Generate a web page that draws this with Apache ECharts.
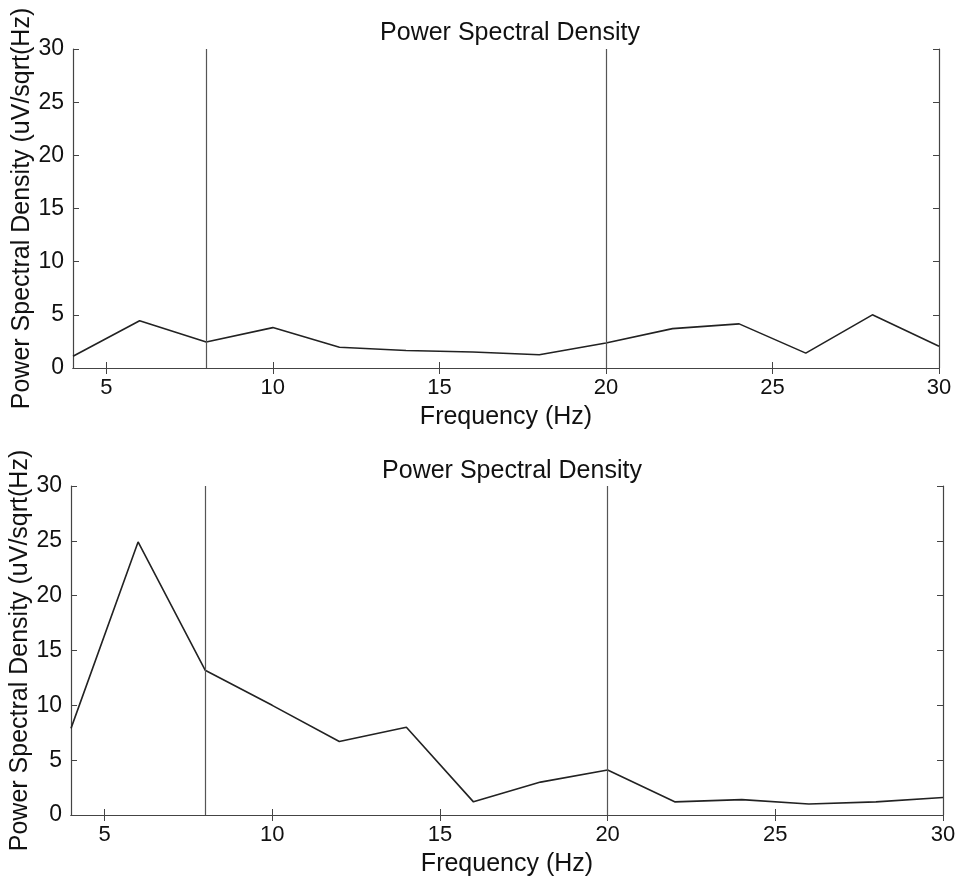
<!doctype html>
<html>
<head>
<meta charset="UTF-8">
<title>Power Spectral Density</title>
<script src="https://cdn.jsdelivr.net/npm/echarts@6/dist/echarts.min.js"></script>
<style>
  html, body { margin: 0; padding: 0; background: #fff; }
  #chart { width: 959px; height: 882px; }
</style>
</head>
<body>
<div id="chart"></div>
<script>
// frequency bins (Hz)
var freqs = [4, 6, 8, 10, 12, 14, 16, 18, 20, 22, 24, 26, 28, 30];
// upper panel
var psdTop = [1.1, 4.45, 2.45, 3.8, 1.95, 1.65, 1.5, 1.25, 2.35, 3.7, 4.15, 1.4, 5.0, 2.05];
// lower panel
var psdBottom = [7.9, 24.9, 13.2, 10.0, 6.7, 8.0, 1.2, 3.0, 4.1, 1.2, 1.4, 1.0, 1.2, 1.6];
// band markers
var bandLines = [8, 20];
var xTicks = [5, 10, 15, 20, 25, 30];

var titleText = 'Power Spectral Density';
var xName = 'Frequency (Hz)';
var yName = 'Power Spectral Density (uV/sqrt(Hz)';

var font = 'Liberation Sans, Arial, sans-serif';
var axisColor = '#444';

function pairs(ys) {
  return freqs.map(function (f, i) { return [f, ys[i]]; });
}

function xAxes(gi) {
  return [{
    type: 'value', gridIndex: gi, min: 4, max: 30, position: 'bottom',
    name: xName, nameLocation: 'middle', nameGap: 37,
    nameTextStyle: { color: '#111', fontSize: 25, fontFamily: font },
    axisLine: { show: true, lineStyle: { color: axisColor, width: 1.2 } },
    axisTick: { show: true, inside: true, length: 6, customValues: xTicks, lineStyle: { color: axisColor } },
    axisLabel: { customValues: xTicks, color: '#111', fontSize: 22, fontFamily: font, margin: 9 },
    splitLine: { show: false }
  }, {
    type: 'value', gridIndex: gi, min: 4, max: 30, position: 'top',
    axisLine: { show: true, lineStyle: { color: axisColor, width: 1.2 } },
    axisTick: { show: true, inside: true, length: 6, customValues: xTicks, lineStyle: { color: axisColor } },
    axisLabel: { show: false },
    splitLine: { show: false }
  }];
}

function yAxes(gi) {
  return [{
    type: 'value', gridIndex: gi, min: 0, max: 30, interval: 5, position: 'left',
    name: yName, nameLocation: 'middle', nameGap: 38, nameRotate: 90, nameMoveOverlap: false,
    nameTextStyle: { color: '#111', fontSize: 25, fontFamily: font },
    axisLine: { show: true, lineStyle: { color: axisColor, width: 1.2 } },
    axisTick: { show: true, inside: true, length: 6, lineStyle: { color: axisColor } },
    axisLabel: { color: '#111', fontSize: 23, fontFamily: font, margin: 9 },
    splitLine: { show: false }
  }, {
    type: 'value', gridIndex: gi, min: 0, max: 30, interval: 5, position: 'right',
    axisLine: { show: true, lineStyle: { color: axisColor, width: 1.2 } },
    axisTick: { show: true, inside: true, length: 6, lineStyle: { color: axisColor } },
    axisLabel: { show: false },
    splitLine: { show: false }
  }];
}

function psdSeries(ys, gi) {
  return {
    type: 'line', xAxisIndex: gi * 2, yAxisIndex: gi * 2,
    data: pairs(ys), symbol: 'none', silent: true,
    lineStyle: { color: '#222', width: 1.6 },
    markLine: {
      silent: true, symbol: 'none', label: { show: false },
      lineStyle: { color: '#555', width: 1.2, type: 'solid' },
      data: bandLines.map(function (v) { return { xAxis: v }; })
    }
  };
}

var myChart = echarts.init(document.getElementById('chart'), null, { renderer: 'canvas' });

var option = {
  backgroundColor: '#fff',
  animation: false,
  title: [
    { text: titleText, left: 505, top: 16, textAlign: 'center',
      textStyle: { color: '#111', fontSize: 25, fontWeight: 'normal', fontFamily: font } },
    { text: titleText, left: 507, top: 454, textAlign: 'center',
      textStyle: { color: '#111', fontSize: 25, fontWeight: 'normal', fontFamily: font } }
  ],
  grid: [
    { left: 73, right: 20, top: 49, height: 319, outerBoundsMode: 'none', containLabel: false },
    { left: 71, right: 16, top: 486, height: 329, outerBoundsMode: 'none', containLabel: false }
  ],
  xAxis: xAxes(0).concat(xAxes(1)),
  yAxis: yAxes(0).concat(yAxes(1)),
  series: [psdSeries(psdTop, 0), psdSeries(psdBottom, 1)]
};

myChart.setOption(option);
</script>
</body>
</html>
